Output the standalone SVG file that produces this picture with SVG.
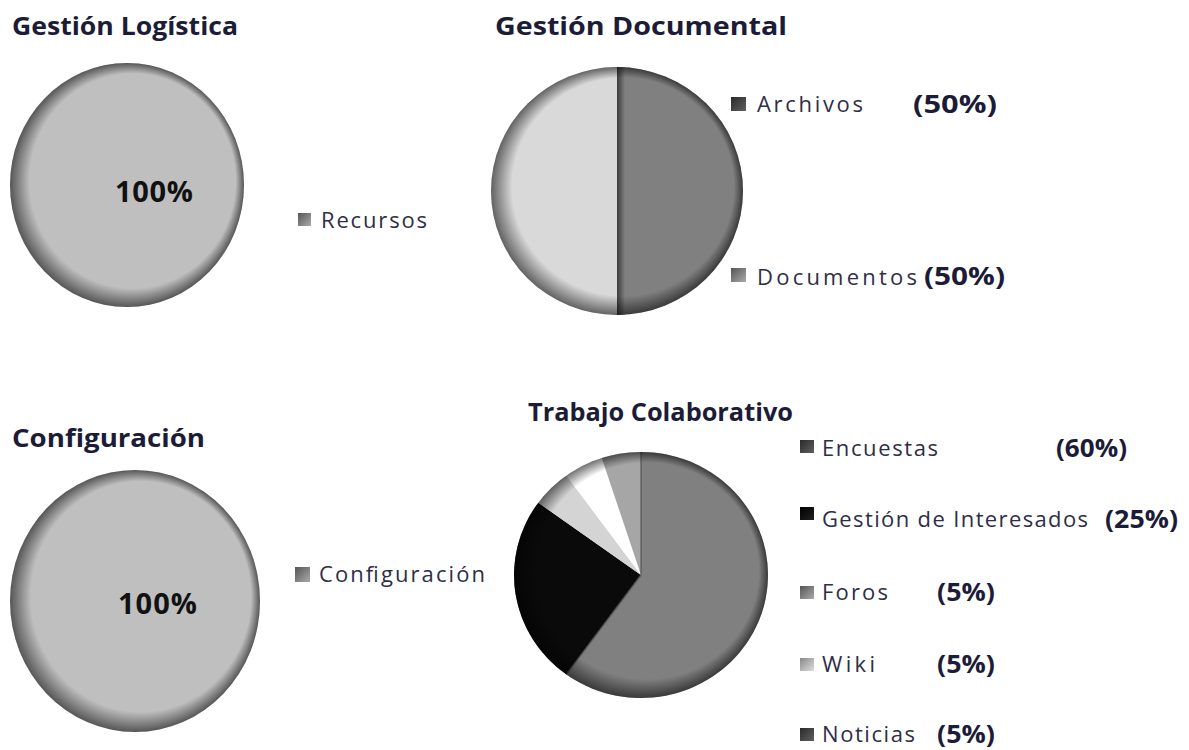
<svg xmlns="http://www.w3.org/2000/svg" width="1189" height="750" viewBox="0 0 1189 750">
<style>
.title{font-family:"Open Sans","Liberation Sans",sans-serif;font-weight:bold;font-size:25px;fill:#1c1c38}
.leg{font-family:"Open Sans","Liberation Sans",sans-serif;font-size:22px;fill:#2e2e48}
.pct{font-family:"Open Sans","Liberation Sans",sans-serif;font-weight:bold;font-size:25px;fill:#1c1c38}
.big{font-family:"Open Sans","Liberation Sans",sans-serif;font-weight:bold;font-size:29px;fill:#111}
</style>
<defs>
<radialGradient id="bevel" cx="0.5" cy="0.5" r="0.5" fx="0.7" fy="0.36">
<stop offset="0" stop-color="#000" stop-opacity="0"/>
<stop offset="0.88" stop-color="#000" stop-opacity="0"/>
<stop offset="1" stop-color="#000" stop-opacity="0.55"/>
</radialGradient>
<linearGradient id="sqDark" x1="0" y1="0" x2="1" y2="1">
<stop offset="0" stop-color="#2a2a2a"/><stop offset="1" stop-color="#606060"/>
</linearGradient>
<linearGradient id="sqMid" x1="0" y1="0" x2="1" y2="1">
<stop offset="0" stop-color="#555"/><stop offset="1" stop-color="#aaa"/>
</linearGradient>
<linearGradient id="sqLight" x1="0" y1="0" x2="1" y2="1">
<stop offset="0" stop-color="#888"/><stop offset="1" stop-color="#ddd"/>
</linearGradient>
<linearGradient id="sqBlack" x1="0" y1="0" x2="1" y2="1">
<stop offset="0" stop-color="#000"/><stop offset="1" stop-color="#222"/>
</linearGradient>
<linearGradient id="split" x1="0" y1="0" x2="1" y2="0">
<stop offset="0" stop-color="#3c3c3c"/><stop offset="1" stop-color="#808080"/>
</linearGradient>
</defs>

<g id="chart-gestion-logistica">
<text class="title" x="12" y="35" textLength="226" lengthAdjust="spacingAndGlyphs">Gestión Logística</text>
<ellipse cx="127" cy="185" rx="117" ry="122" fill="#bfbfbf"/>
<ellipse cx="127" cy="185" rx="117" ry="122" fill="url(#bevel)"/>
<text class="big" x="115" y="202" textLength="78">100%</text>
<rect x="298" y="213" width="13" height="13" fill="url(#sqMid)"/>
<text class="leg" x="321" y="228" textLength="106">Recursos</text>
</g>

<g id="chart-gestion-documental">
<text class="title" x="495" y="35" textLength="292" lengthAdjust="spacingAndGlyphs">Gestión Documental</text>
<path d="M617,67 A126,124 0 0 0 617,315 Z" fill="#d9d9d9"/>
<path d="M617,67 A126,124 0 0 1 617,315 Z" fill="#808080"/>
<rect x="617" y="67" width="8" height="248" fill="url(#split)"/>
<ellipse cx="617" cy="191" rx="126" ry="124" fill="url(#bevel)"/>
<rect x="731" y="97" width="15" height="14" fill="url(#sqDark)"/>
<text class="leg" x="757" y="112" textLength="106">Archivos</text>
<text class="pct" x="913" y="113" textLength="84" lengthAdjust="spacingAndGlyphs">(50%)</text>
<rect x="731" y="268" width="15" height="14" fill="url(#sqMid)"/>
<text class="leg" x="757" y="285" textLength="160">Documentos</text>
<text class="pct" x="924" y="285" textLength="81" lengthAdjust="spacingAndGlyphs">(50%)</text>
</g>

<g id="chart-configuracion">
<text class="title" x="12" y="447" textLength="193" lengthAdjust="spacingAndGlyphs">Configuración</text>
<ellipse cx="135" cy="601" rx="125" ry="131" fill="#bfbfbf"/>
<ellipse cx="135" cy="601" rx="125" ry="131" fill="url(#bevel)"/>
<text class="big" x="118" y="614" textLength="79">100%</text>
<rect x="295" y="567" width="15" height="15" fill="url(#sqMid)"/>
<text class="leg" x="319" y="582" textLength="166">Configuración</text>
</g>

<g id="chart-trabajo-colaborativo">
<text class="title" x="528" y="421" textLength="265" lengthAdjust="spacingAndGlyphs">Trabajo Colaborativo</text>
<path d="M641,575 L641,452 A127,123 0 1 1 566.35,674.51 Z" fill="#808080"/>
<path d="M641,575 L566.35,674.51 A127,123 0 0 1 538.26,502.70 Z" fill="#0a0a0a"/>
<path d="M641,575 L538.26,502.70 A127,123 0 0 1 566.35,475.49 Z" fill="#d4d4d4"/>
<path d="M641,575 L566.35,475.49 A127,123 0 0 1 601.75,458.02 Z" fill="#ffffff"/>
<path d="M641,575 L601.75,458.02 A127,123 0 0 1 641,452 Z" fill="#a6a6a6"/>
<g stroke="#555" stroke-width="2" opacity="0.6">
<line x1="641" y1="575" x2="641" y2="452"/>
<line x1="641" y1="575" x2="566.35" y2="674.51"/>
</g>
<ellipse cx="641" cy="575" rx="127" ry="123" fill="url(#bevel)"/>
<rect x="800" y="440" width="14" height="13" fill="url(#sqDark)"/>
<text class="leg" x="822" y="456" textLength="116">Encuestas</text>
<text class="pct" x="1056" y="457" textLength="71" lengthAdjust="spacingAndGlyphs">(60%)</text>
<rect x="800" y="507" width="14" height="13" fill="url(#sqBlack)"/>
<text class="leg" x="822" y="527" textLength="266">Gestión de Interesados</text>
<text class="pct" x="1105" y="528" textLength="73" lengthAdjust="spacingAndGlyphs">(25%)</text>
<rect x="800" y="586" width="14" height="13" fill="url(#sqMid)"/>
<text class="leg" x="822" y="600" textLength="66">Foros</text>
<text class="pct" x="937" y="601" textLength="58" lengthAdjust="spacingAndGlyphs">(5%)</text>
<rect x="800" y="658" width="14" height="13" fill="url(#sqLight)"/>
<text class="leg" x="822" y="672" textLength="53">Wiki</text>
<text class="pct" x="937" y="673" textLength="58" lengthAdjust="spacingAndGlyphs">(5%)</text>
<rect x="800" y="728" width="14" height="13" fill="url(#sqDark)"/>
<text class="leg" x="822" y="742" textLength="93">Noticias</text>
<text class="pct" x="937" y="743" textLength="58" lengthAdjust="spacingAndGlyphs">(5%)</text>
</g>
</svg>
